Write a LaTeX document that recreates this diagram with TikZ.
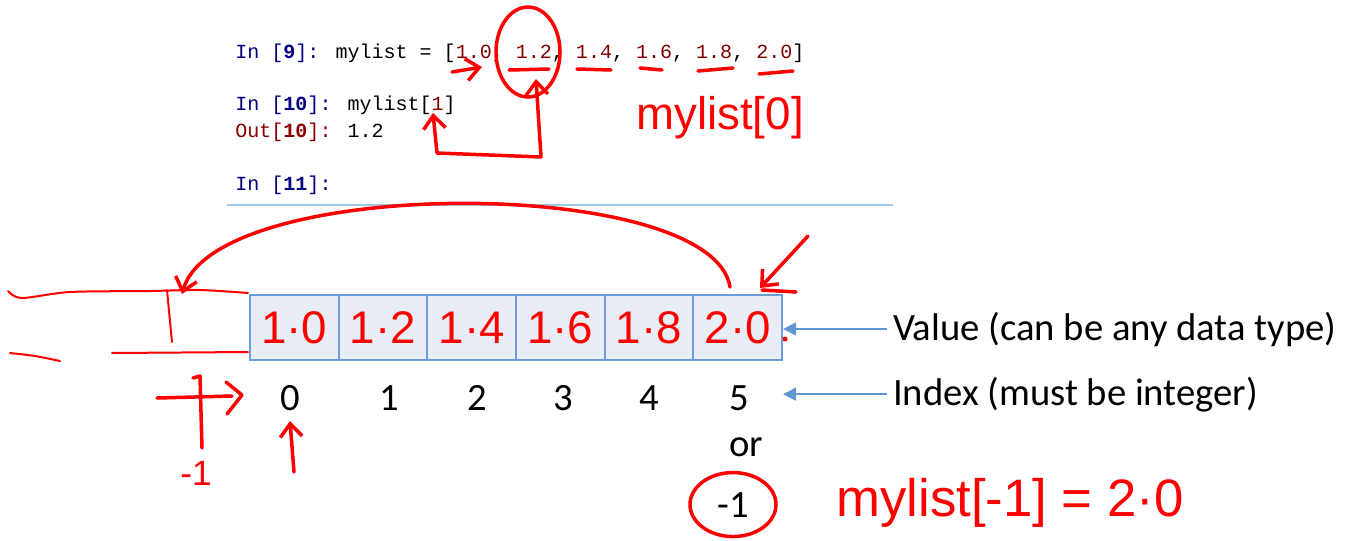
\documentclass[tikz,border=0pt]{standalone}
\usepackage{fontspec}
\setmainfont{Carlito}
\newfontfamily\codefont{Liberation Mono}
\newfontfamily\penfont{Liberation Sans}
\usepackage{tikz}
\usetikzlibrary{arrows.meta}
\definecolor{promptBlue}{RGB}{0,0,128}
\definecolor{outRed}{RGB}{139,0,0}
\definecolor{numRed}{RGB}{128,0,0}
\definecolor{penRed}{RGB}{255,0,0}
\definecolor{cellFill}{RGB}{233,237,246}
\definecolor{cellLine}{RGB}{108,157,214}
\definecolor{sideBlue}{RGB}{96,150,210}
\definecolor{sepBlue}{RGB}{160,200,235}
\newcommand{\numlit}[1]{\textcolor{numRed}{#1}}
\tikzset{
  code line/.style={anchor=base west,inner sep=0pt,font=\codefont\fontsize{11.4}{13}\selectfont},
  array cell/.style={draw=cellLine,fill=cellFill,line width=0.45mm,minimum width=17.73mm,minimum height=13mm,inner sep=0pt,text=penRed,font=\penfont\fontsize{26}{28}\selectfont},
  index label/.style={anchor=base,inner sep=0pt,font=\fontsize{22}{24}\selectfont},
  side label/.style={anchor=base west,inner sep=0pt,outer xsep=1.2mm,font=\fontsize{22}{24}\selectfont},
  side arrow/.style={-{Triangle[length=2.6mm,width=2.6mm]},line width=0.3mm,draw=sideBlue},
  pen stroke/.style={draw=penRed,line width=0.7mm,line cap=round,line join=round},
  pen thin/.style={draw=penRed,line width=0.4mm,line cap=round,line join=round},
  pen arrow/.style={pen stroke,-{Straight Barb[length=2.6mm,width=4.4mm]}},
  pen text/.style={text=penRed,inner sep=0pt,font=\penfont\fontsize{26}{28}\selectfont}
}
\begin{document}
\begin{tikzpicture}[x=0.2mm,y=-0.2mm]
  \useasboundingbox (0,0) rectangle (1350,540);
  % notebook
  \node[code line] (in9) at (235,58) {\textcolor{promptBlue}{In [\textbf{9}]:} mylist = [\numlit{1.0}, \numlit{1.2}, \numlit{1.4}, \numlit{1.6}, \numlit{1.8}, \numlit{2.0}]};
  \node[code line] (in10) at (235,110) {\textcolor{promptBlue}{In [\textbf{10}]:} mylist[\numlit{1}]};
  \node[code line] (out10) at (235,137) {\textcolor{outRed}{Out[\textbf{10}]:} 1.2};
  \node[code line] (in11) at (235,190) {\textcolor{promptBlue}{In [\textbf{11}]:}};
  \draw[sepBlue,line width=0.4mm] (227,205) -- (893,205);
  % the list
  \foreach \v [count=\i from 0] in {1·0,1·2,1·4,1·6,1·8,2·0}
    \node[array cell] (c\i) at ({294.3+88.67*\i},327.5) {\v};
  \foreach \x [count=\i from 0] in {290,389,477,563,649,739}
    \node[index label] (i\i) at (\x,410) {\i};
  \node[index label] (orword) at (746,456) {or};
  \node[index label] (minusone) at (733,517) {-1};
  \node[side label] (valuelbl) at (887,340) {Value (can be any data type)};
  \node[side label] (indexlbl) at (887,405) {Index (must be integer)};
  \draw[side arrow] (valuelbl.west) -- (valuelbl.west -| c5.east);
  \draw[side arrow] (indexlbl.west) -- (indexlbl.west -| c5.east);
  % pen notes
  \draw[pen stroke] (528,52) ellipse [x radius=32,y radius=45];
  \draw[pen arrow] (452,72) -- (482,67);
  \draw[pen stroke] (509,70) -- (549,69);
  \draw[pen stroke] (577,69) -- (611,70);
  \draw[pen stroke] (640,68) -- (662,70);
  \draw[pen stroke] (698,71) -- (733,68);
  \draw[pen stroke] (759,74) -- (793,71);
  \draw[pen stroke,{Straight Barb[length=2.6mm,width=4.4mm]}-{Straight Barb[length=2.6mm,width=4.4mm]}] (433,113) -- (437,153) -- (541,157) -- (536,79);
  \node[pen text] (note0) at (720,118) {mylist[0]};
  \draw[pen arrow] (730,287) .. controls (712,175) and (215,175) .. (182,294);
  \draw[pen arrow] (808,236) -- (760,288);
  \draw[pen stroke] (762,290) -- (796,292);
  \fill[penRed] (785,339) circle [radius=2.5];
  \draw[pen thin] plot[smooth] coordinates {(8,291) (22,298) (70,292) (150,291) (200,290) (248,293)};
  \draw[pen thin] (167,290) -- (172,342);
  \draw[pen thin] plot[smooth] coordinates {(10,353) (35,356) (60,361)};
  \draw[pen thin] (112,353) -- (248,352);
  \draw[pen stroke] (157,398) -- (232,396);
  \draw[pen stroke] (226,382) -- (242,395) -- (227,414);
  \draw[pen stroke] (193,378) -- (200,376) -- (202,448);
  \node[pen text,font=\penfont\fontsize{20}{22}\selectfont] (negone) at (196,473) {-1};
  \draw[pen arrow] (294,472) -- (290,421);
  \draw[pen stroke] (minusone) ellipse [x radius=43,y radius=32];
  \node[pen text,font=\penfont\fontsize{30}{32}\selectfont] (note1) at (1010,503) {mylist[-1] = 2·0};
\end{tikzpicture}
\end{document}
